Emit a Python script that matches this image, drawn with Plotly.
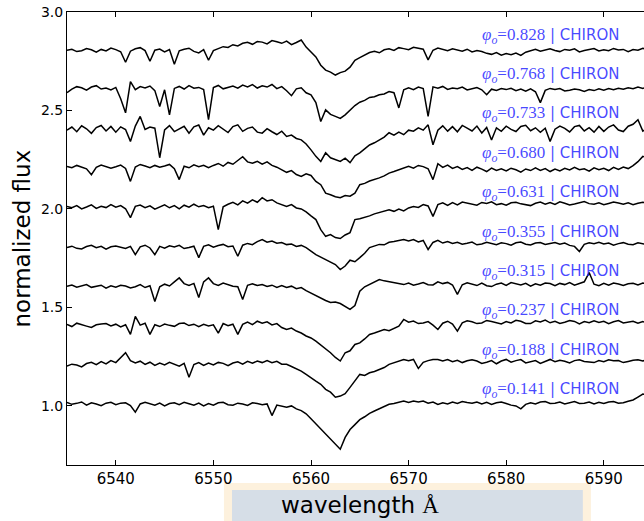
import plotly.graph_objects as go

# ---------------- data ----------------
wavelength = [
    6535.0, 6535.5, 6536.0, 6536.5, 6537.0, 6537.5, 6538.0, 6538.5, 6539.0, 6539.5,
    6540.0, 6540.5, 6541.0, 6541.5, 6542.0, 6542.5, 6543.0, 6543.5, 6544.0, 6544.5,
    6545.0, 6545.5, 6546.0, 6546.5, 6547.0, 6547.5, 6548.0, 6548.5, 6549.0, 6549.5,
    6550.0, 6550.5, 6551.0, 6551.5, 6552.0, 6552.5, 6553.0, 6553.5, 6554.0, 6554.5,
    6555.0, 6555.5, 6556.0, 6556.5, 6557.0, 6557.5, 6558.0, 6558.5, 6559.0, 6559.5,
    6560.0, 6560.5, 6561.0, 6561.5, 6562.0, 6562.5, 6563.0, 6563.5, 6564.0, 6564.5,
    6565.0, 6565.5, 6566.0, 6566.5, 6567.0, 6567.5, 6568.0, 6568.5, 6569.0, 6569.5,
    6570.0, 6570.5, 6571.0, 6571.5, 6572.0, 6572.5, 6573.0, 6573.5, 6574.0, 6574.5,
    6575.0, 6575.5, 6576.0, 6576.5, 6577.0, 6577.5, 6578.0, 6578.5, 6579.0, 6579.5,
    6580.0, 6580.5, 6581.0, 6581.5, 6582.0, 6582.5, 6583.0, 6583.5, 6584.0, 6584.5,
    6585.0, 6585.5, 6586.0, 6586.5, 6587.0, 6587.5, 6588.0, 6588.5, 6589.0, 6589.5,
    6590.0, 6590.5, 6591.0, 6591.5, 6592.0, 6592.5, 6593.0, 6593.5, 6594.0, 6594.5,
    6595.0,
]

phases = ["0.828", "0.768", "0.733", "0.680", "0.631",
          "0.355", "0.315", "0.237", "0.188", "0.141"]
offsets = [1.8, 1.6, 1.4, 1.2, 1.0, 0.8, 0.6, 0.4, 0.2, 0.0]
instrument = "CHIRON"

flux_0828 = [
    1.006, 1.011, 0.999, 1.003, 1.014, 1.008, 0.996, 1.010, 1.002, 1.017,
    1.009, 0.998, 0.945, 1.001, 1.013, 1.019, 1.004, 0.950, 1.006, 1.012,
    0.997, 1.009, 0.935, 1.003, 1.011, 1.016, 1.000, 0.992, 1.009, 0.955,
    1.004, 1.015, 1.024, 1.020, 1.034, 1.028, 1.041, 1.046, 1.036, 1.050,
    1.047, 1.038, 1.055, 1.049, 1.041, 1.052, 1.034, 1.045, 1.058, 1.022,
    0.995, 0.972, 0.930, 0.905, 0.895, 0.880, 0.892, 0.900, 0.920, 0.955,
    0.968, 0.981, 0.994, 1.000, 0.993, 1.008, 1.013, 1.005, 1.019, 1.014,
    1.009, 1.021, 1.016, 1.011, 0.957, 1.006, 1.017, 1.010, 1.003, 1.013,
    1.008, 1.001, 1.011, 0.997, 1.004, 0.999, 0.990, 0.985, 0.994, 0.981,
    0.989, 0.983, 0.991, 0.980, 0.996, 1.003, 1.011, 1.001, 1.008, 1.013,
    1.005, 0.999, 1.010, 1.006, 1.013, 0.997, 1.004, 1.009, 1.014, 1.002,
    1.008, 1.003, 1.015, 1.007, 1.010, 0.999, 1.009, 1.006, 1.016, 1.008,
    1.012,
]
flux_0768 = [
    0.990, 1.008, 1.021, 1.015, 1.003, 1.019, 1.026, 1.009, 1.014, 1.004,
    1.017, 0.960, 0.888, 1.047, 1.006, 1.021, 1.014, 1.024, 1.001, 0.920,
    1.005, 0.878, 1.012, 1.022, 1.009, 1.026, 1.013, 1.017, 1.006, 0.853,
    1.016, 1.027, 1.010, 1.019, 1.024, 1.013, 1.029, 1.020, 1.031, 1.014,
    1.025, 1.019, 1.032, 1.011, 1.021, 1.000, 0.975, 1.010, 1.015, 0.990,
    0.979, 0.940, 0.844, 0.903, 0.880, 0.870, 0.860, 0.878, 0.903, 0.925,
    0.942, 0.951, 0.966, 0.970, 0.980, 0.984, 0.996, 0.990, 0.913, 1.005,
    1.015, 1.006, 1.019, 1.011, 0.870, 1.020, 1.013, 1.022, 1.007, 1.014,
    1.010, 1.019, 1.004, 1.012, 1.016, 1.005, 0.980, 1.008, 1.002, 1.011,
    1.006, 1.013, 1.001, 1.009, 0.998, 1.010, 0.995, 0.940, 1.002, 1.012,
    1.006, 1.011, 0.999, 1.003, 1.009, 1.005, 0.997, 1.006, 1.001, 1.010,
    1.003, 1.011, 1.005, 1.013, 1.008, 1.015, 1.011, 1.019, 1.012, 1.022,
    1.020,
]
flux_0733 = [
    1.000, 1.016, 0.992, 1.022, 1.007, 0.984, 1.013, 1.024, 0.996, 1.019,
    0.990, 1.017, 1.003, 0.943, 1.021, 1.070, 1.004, 1.016, 1.010, 0.860,
    1.001, 1.023, 0.993, 1.008, 1.020, 0.985, 1.017, 1.026, 0.975, 1.012,
    1.000, 1.023, 1.006, 0.988, 1.018, 1.027, 0.994, 1.009, 1.016, 0.990,
    0.985, 1.008, 0.992, 0.978, 0.995, 0.968, 0.975, 0.958, 0.951, 0.930,
    0.900, 0.867, 0.841, 0.885, 0.860, 0.850, 0.841, 0.858, 0.835, 0.870,
    0.885, 0.905, 0.925, 0.936, 0.950, 0.965, 0.987, 0.975, 0.990, 0.977,
    1.000, 0.995, 1.012, 1.000, 1.027, 0.926, 1.000, 1.022, 0.995, 1.018,
    0.992, 1.024, 1.010, 0.996, 1.021, 0.986, 1.014, 0.950, 1.012, 0.994,
    1.020, 1.004, 0.993, 1.019, 1.025, 0.997, 1.012, 0.989, 1.010, 0.943,
    1.005, 1.021, 1.009, 0.991, 1.018, 1.024, 0.996, 1.013, 0.990, 1.019,
    0.994, 1.016, 1.027, 1.001, 0.993, 1.020, 1.030, 1.053, 0.995, 1.010,
    1.000,
]
flux_0680 = [
    1.016, 1.009, 1.021, 1.013, 1.004, 0.974, 1.011, 1.023, 1.016, 1.007,
    1.014, 1.023, 1.006, 0.940, 1.013, 1.026, 1.018, 1.009, 1.021, 1.012,
    1.018, 1.026, 1.004, 0.949, 1.017, 1.009, 1.024, 1.015, 1.022, 1.010,
    1.021, 1.031, 1.017, 1.036, 1.027, 1.044, 1.065, 1.039, 1.032, 1.042,
    1.027, 1.039, 1.021, 1.012, 0.999, 0.986, 0.995, 0.975, 0.965, 0.978,
    0.970, 0.940, 0.923, 0.880, 0.872, 0.862, 0.857, 0.868, 0.865, 0.880,
    0.923, 0.930, 0.942, 0.949, 0.958, 0.968, 0.982, 0.990, 1.000, 1.010,
    1.016, 1.007, 1.021, 1.015, 1.004, 0.949, 1.030, 1.011, 1.023, 1.006,
    1.015, 1.001, 1.010, 0.996, 1.012, 1.002, 0.990, 1.007, 0.995, 1.004,
    0.993, 1.007, 0.999, 0.987, 1.003, 0.995, 1.009, 0.996, 1.005, 0.990,
    1.003, 0.993, 1.006, 0.998, 1.011, 0.999, 1.004, 0.992, 1.009, 0.999,
    1.006, 0.995, 1.011, 1.001, 1.013, 1.005, 1.020, 1.040, 1.067, 1.060,
    1.062,
]
flux_0631 = [
    1.012, 1.006, 1.017, 1.000, 1.010, 1.021, 1.003, 1.014, 1.007, 1.022,
    1.009, 1.017, 1.001, 0.956, 1.013, 1.020, 1.006, 1.016, 0.999, 1.011,
    1.021, 1.006, 1.017, 1.001, 1.019, 1.009, 1.024, 1.011, 1.017, 1.006,
    1.014, 0.895, 1.011, 1.024, 1.034, 1.021, 1.041, 1.029, 1.046, 1.034,
    1.057, 1.041, 1.047, 1.031, 1.021, 1.013, 1.022, 1.005, 1.000, 0.985,
    0.965, 0.946, 0.895, 0.861, 0.870, 0.855, 0.850, 0.868, 0.880, 0.946,
    0.950, 0.956, 0.965, 0.975, 0.982, 0.990, 0.996, 0.988, 1.000, 0.990,
    1.005, 1.012, 1.008, 1.022, 1.015, 0.962, 1.022, 1.031, 1.018, 1.032,
    1.021, 1.035, 1.030, 1.024, 1.019, 1.033, 1.028, 1.036, 1.022, 1.027,
    1.019, 1.031, 1.034, 1.026, 1.021, 1.017, 1.029, 1.035, 1.024, 1.033,
    1.023, 1.036, 1.029, 1.020, 1.025, 1.033, 1.038, 1.027, 1.024, 1.031,
    1.021, 1.028, 1.035, 1.030, 1.024, 1.031, 1.022, 1.029, 1.034, 1.027,
    1.030,
]
flux_0355 = [
    1.004, 1.011, 1.000, 0.997, 1.009, 1.015, 1.003, 1.010, 0.996, 1.008,
    1.012, 1.004, 0.999, 1.010, 0.968, 1.008, 1.016, 1.002, 0.968, 1.010,
    1.001, 1.013, 1.007, 1.015, 0.999, 1.004, 1.011, 0.953, 1.010, 1.018,
    1.006, 1.014, 1.020, 1.008, 1.012, 0.960, 1.016, 1.025, 1.019, 1.034,
    1.045, 1.031, 1.037, 1.026, 1.030, 1.019, 1.022, 1.010, 1.015, 1.004,
    0.985, 0.968, 0.955, 0.943, 0.930, 0.918, 0.892, 0.910, 0.940, 0.932,
    0.953, 0.975, 1.004, 1.012, 1.020, 1.018, 1.031, 1.035, 1.041, 1.045,
    1.038, 1.045, 1.033, 1.040, 0.994, 1.030, 1.041, 1.027, 1.035, 1.025,
    1.031, 1.021, 1.026, 1.032, 1.018, 1.022, 1.031, 1.025, 1.019, 1.028,
    1.024, 1.016, 1.028, 1.032, 1.021, 1.017, 1.027, 1.030, 1.020, 1.025,
    1.030, 1.021, 1.027, 1.015, 1.010, 0.984, 1.020, 1.028, 1.024, 1.031,
    1.022, 1.027, 1.016, 1.024, 1.029, 1.021, 1.018, 1.028, 1.025, 1.019,
    1.022,
]
flux_0315 = [
    1.008, 1.014, 1.003, 1.011, 1.016, 1.002, 1.006, 1.013, 0.998, 1.010,
    1.003, 1.013, 1.009, 0.999, 1.005, 1.016, 1.001, 1.010, 0.930, 1.005,
    1.018, 1.009, 1.030, 1.050, 1.021, 1.012, 1.022, 0.950, 1.030, 1.050,
    1.021, 1.012, 1.024, 1.016, 1.008, 1.005, 0.940, 1.012, 1.020, 1.011,
    1.016, 1.006, 1.013, 1.002, 1.011, 1.001, 1.008, 0.995, 1.001, 0.985,
    0.972, 0.957, 0.945, 0.935, 0.925, 0.928, 0.920, 0.905, 0.890, 0.910,
    0.982, 1.005, 1.016, 1.030, 1.042, 1.035, 1.030, 1.025, 1.020, 1.016,
    1.024, 1.013, 1.019, 1.026, 1.015, 1.014, 1.030, 1.021, 1.027, 1.014,
    0.966, 1.015, 1.025, 1.019, 1.011, 1.024, 1.010, 1.006, 1.018, 1.024,
    1.012, 1.026, 1.020, 1.014, 1.022, 1.008, 1.020, 1.013, 1.024, 1.021,
    1.010, 1.022, 1.016, 1.026, 1.013, 1.022, 1.030, 1.077, 1.018, 1.010,
    1.022, 1.013, 1.024, 1.019, 1.011, 1.020, 1.023, 1.014, 1.024, 1.017,
    1.020,
]
flux_0237 = [
    1.014, 1.003, 1.020, 1.011, 1.005, 0.998, 1.012, 1.016, 1.018, 1.006,
    1.015, 1.001, 1.012, 0.963, 1.054, 1.010, 1.020, 0.963, 1.012, 1.003,
    1.016, 1.009, 1.004, 1.018, 1.021, 1.008, 1.015, 1.002, 1.014, 1.006,
    1.012, 0.970, 1.018, 1.007, 1.015, 0.963, 1.014, 1.026, 1.013, 1.030,
    1.020, 1.027, 1.011, 1.018, 0.998, 0.988, 0.995, 0.980, 0.970, 0.955,
    0.945, 0.929, 0.910, 0.887, 0.870, 0.846, 0.828, 0.870, 0.880, 0.912,
    0.920, 0.940, 0.963, 0.970, 0.978, 0.988, 0.982, 0.995, 1.005, 1.039,
    1.025, 1.031, 1.018, 1.021, 1.028, 1.010, 0.988, 1.020, 1.030, 1.015,
    0.980, 1.022, 1.032, 1.027, 1.018, 1.021, 1.034, 1.029, 1.022, 1.016,
    1.028, 1.021, 1.035, 1.030, 1.019, 1.018, 1.032, 1.026, 1.036, 1.022,
    1.030, 1.019, 1.025, 1.034, 1.029, 1.016, 1.028, 1.022, 1.032, 1.024,
    1.030, 1.018, 1.027, 1.033, 1.021, 1.024, 1.030, 1.020, 1.028, 1.022,
    1.026,
]
flux_0188 = [
    1.002, 1.012, 1.008, 0.998, 1.015, 1.021, 1.009, 1.025, 1.013, 1.030,
    1.020, 1.045, 1.070, 1.030, 1.018, 1.027, 1.011, 1.022, 1.006, 1.017,
    1.008, 1.021, 1.013, 1.002, 1.016, 0.945, 1.010, 1.020, 1.006, 1.018,
    1.008, 1.021, 1.016, 1.004, 1.018, 1.024, 1.012, 1.026, 1.017, 1.028,
    1.020, 1.030, 1.019, 1.026, 1.012, 1.011, 1.000, 0.990, 0.977, 0.960,
    0.945, 0.926, 0.910, 0.884, 0.870, 0.844, 0.850, 0.862, 0.894, 0.925,
    0.960, 0.955, 0.968, 0.975, 0.985, 0.995, 1.011, 1.020, 1.028, 1.036,
    1.030, 1.036, 0.990, 1.021, 1.030, 1.036, 1.036, 1.028, 1.035, 1.024,
    1.032, 1.020, 1.029, 1.034, 1.028, 1.016, 1.022, 1.030, 1.014, 1.028,
    1.036, 1.022, 1.030, 1.035, 1.018, 1.024, 1.030, 1.016, 1.028, 1.036,
    1.024, 1.032, 1.027, 1.018, 1.030, 1.034, 1.026, 1.022, 1.020, 1.030,
    1.024, 1.034, 1.029, 1.030, 1.020, 1.026, 1.032, 1.034, 1.028, 1.036,
    1.030,
]
flux_0141 = [
    1.018, 1.008, 1.013, 1.020, 1.004, 1.016, 1.010, 1.001, 1.014, 1.018,
    1.006, 1.014, 1.016, 1.002, 0.968, 1.010, 1.018, 1.012, 1.004, 1.014,
    1.000, 1.012, 1.016, 1.006, 1.018, 1.011, 1.004, 1.014, 1.000, 1.012,
    1.004, 1.016, 1.018, 1.006, 1.004, 1.014, 1.010, 1.002, 1.016, 1.012,
    1.006, 1.010, 0.951, 1.004, 0.998, 0.993, 1.000, 0.985, 0.976, 0.960,
    0.935, 0.910, 0.885, 0.860, 0.835, 0.810, 0.780, 0.840, 0.880, 0.905,
    0.930, 0.945, 0.962, 0.974, 0.985, 0.995, 1.008, 1.012, 1.020, 1.025,
    1.018, 1.025, 1.020, 1.025, 1.014, 1.020, 1.008, 1.016, 1.010, 1.020,
    1.012, 1.022, 1.017, 1.014, 1.020, 1.010, 1.018, 1.008, 1.016, 1.020,
    1.012, 1.004, 1.000, 0.985, 1.008, 1.016, 1.010, 1.020, 1.022, 1.012,
    1.014, 1.020, 1.010, 1.018, 1.022, 1.012, 1.014, 1.020, 1.010, 1.018,
    1.012, 1.020, 1.022, 1.014, 1.016, 1.024, 1.030, 1.045, 1.060, 1.055,
    1.058,
]

spectra = [flux_0828, flux_0768, flux_0733, flux_0680, flux_0631,
           flux_0355, flux_0315, flux_0237, flux_0188, flux_0141]

x_range = [6535.0, 6594.12]
y_range = [0.7, 3.0]
x_ticks = [6540, 6550, 6560, 6570, 6580, 6590]
y_ticks = [1.0, 1.5, 2.0, 2.5, 3.0]
label_x = 6591.8
label_dy = 1.08

# ---------------- figure ----------------
fig = go.Figure()
for flux, off in zip(spectra, offsets):
    fig.add_trace(go.Scatter(
        x=wavelength, y=[f + off for f in flux], mode="lines",
        line=dict(color="black", width=1.5), showlegend=False,
        hoverinfo="skip"))

sans = "font-family:DejaVu Sans;font-size:15px"
for ph, off in zip(phases, offsets):
    fig.add_annotation(
        x=label_x, y=off + label_dy, xref="x", yref="y",
        text=f'<i>φ</i><sub><i>o</i></sub>={ph}'
             f'<span style="{sans}"> | {instrument}</span>',
        showarrow=False, xanchor="right", yanchor="middle",
        font=dict(family="Liberation Serif", size=17,
                  color="rgba(40,40,255,0.85)"))

# axis titles
fig.add_annotation(
    x=-0.078, y=0.5, xref="paper", yref="paper", textangle=-90,
    text="normalized flux", showarrow=False, xanchor="center", yanchor="middle",
    font=dict(family="DejaVu Sans", size=23, color="black"))

# background box behind x-axis title (as in reference image)
fig.add_shape(type="rect", xref="paper", yref="paper",
              x0=0.272, x1=0.908, y0=-0.0397, y1=-0.14,
              fillcolor="#fdf1dd", line=dict(width=0), layer="below")
fig.add_shape(type="rect", xref="paper", yref="paper",
              x0=0.286, x1=0.894, y0=-0.0552, y1=-0.14,
              fillcolor="#d6dee7", line=dict(width=0), layer="below")

fig.add_annotation(
    x=0.508, y=-0.088, xref="paper", yref="paper",
    text='wavelength <span style="font-family:Liberation Serif">Å</span>',
    showarrow=False, xanchor="center", yanchor="middle",
    font=dict(family="DejaVu Sans", size=23, color="black"))

fig.update_xaxes(
    range=x_range, tickvals=x_ticks, ticks="inside", ticklen=5, tickwidth=1,
    tickcolor="black", showline=True, linecolor="black", linewidth=1,
    mirror="ticks", showgrid=False, zeroline=False,
    tickfont=dict(family="DejaVu Sans", size=15, color="black"))
fig.update_yaxes(
    range=y_range, tickvals=y_ticks, tickformat=".1f", ticks="inside",
    ticklen=5, tickwidth=1, tickcolor="black", showline=True,
    linecolor="black", linewidth=1, showgrid=False, zeroline=False,
    tickfont=dict(family="DejaVu Sans", size=14, color="black"))

fig.update_layout(
    width=644, height=521,
    margin=dict(l=67, r=0, t=12, b=56),
    paper_bgcolor="white", plot_bgcolor="white",
    font=dict(family="DejaVu Sans"),
)

fig.write_html("out.html")
